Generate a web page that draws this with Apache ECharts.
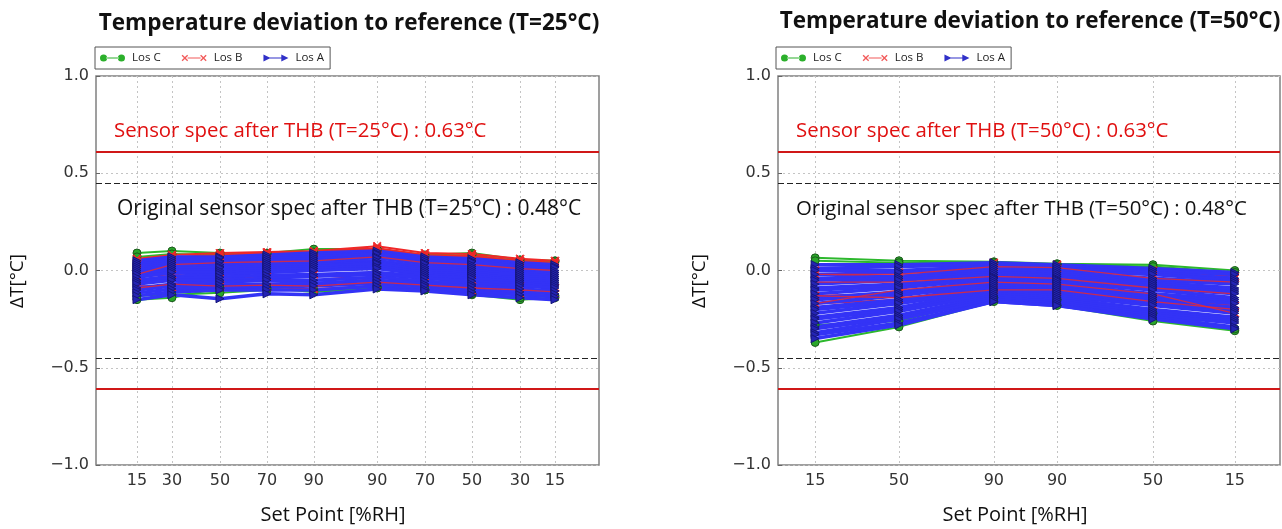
<!DOCTYPE html>
<html>
<head>
<meta charset="utf-8">
<script src="https://cdn.jsdelivr.net/npm/echarts@6/dist/echarts.min.js"></script>
<style>html,body{margin:0;padding:0;background:#fff}#chart{width:1282px;height:529px}</style>
</head>
<body>
<div id="chart"></div>
<script>
// x positions of the set points (arbitrary time scale 0..100) and their labels
const stepX25 = [8.15, 15.1, 24.65, 34.0, 43.3, 55.9, 65.4, 74.75, 84.3, 91.25];
const stepLabels25 = ['15', '30', '50', '70', '90', '90', '70', '50', '30', '15'];
const stepX50 = [7.4, 24.1, 43.0, 55.6, 74.7, 91.0];
const stepLabels50 = ['15', '50', '90', '90', '50', '15'];

// spec lines
const specRed = [0.61, -0.61];
const specBlack = [0.45, -0.45];

// T=25°C
const losA25 = [
  [0.05, 0.07, 0.07, 0.08, 0.09, 0.10, 0.07, 0.06, 0.04, 0.03],
  [0.04, 0.06, 0.065, 0.07, 0.08, 0.09, 0.06, 0.05, 0.03, 0.02],
  [0.03, 0.05, 0.05, 0.06, 0.07, 0.085, 0.05, 0.045, 0.02, 0.015],
  [0.02, 0.04, 0.045, 0.05, 0.06, 0.07, 0.04, 0.03, 0.01, 0.00],
  [0.01, 0.03, 0.03, 0.04, 0.05, 0.065, 0.035, 0.02, 0.00, -0.01],
  [0.00, 0.02, 0.02, 0.03, 0.04, 0.05, 0.02, 0.01, -0.01, -0.02],
  [-0.01, 0.01, 0.015, 0.02, 0.03, 0.04, 0.01, 0.00, -0.02, -0.03],
  [-0.02, 0.00, 0.00, 0.01, 0.02, 0.035, 0.00, -0.01, -0.03, -0.04],
  [-0.035, -0.01, -0.01, 0.00, 0.01, 0.02, -0.01, -0.02, -0.04, -0.05],
  [-0.05, -0.03, -0.02, -0.01, 0.00, 0.01, -0.02, -0.03, -0.05, -0.06],
  [-0.06, -0.04, -0.035, -0.025, -0.02, -0.01, -0.03, -0.04, -0.06, -0.07],
  [-0.07, -0.05, -0.05, -0.04, -0.03, -0.02, -0.04, -0.055, -0.07, -0.08],
  [-0.09, -0.07, -0.06, -0.05, -0.05, -0.035, -0.055, -0.07, -0.08, -0.09],
  [-0.10, -0.08, -0.075, -0.07, -0.065, -0.05, -0.07, -0.08, -0.095, -0.105],
  [-0.115, -0.095, -0.09, -0.085, -0.08, -0.065, -0.08, -0.095, -0.11, -0.12],
  [-0.13, -0.11, -0.10, -0.10, -0.10, -0.08, -0.095, -0.11, -0.125, -0.135],
  [-0.15, -0.125, -0.145, -0.12, -0.125, -0.095, -0.105, -0.125, -0.14, -0.15]
];
const losB25 = [
  [0.06, 0.08, 0.09, 0.095, 0.10, 0.125, 0.09, 0.085, 0.06, 0.05],
  [0.045, 0.07, 0.08, 0.09, 0.095, 0.115, 0.08, 0.075, 0.05, 0.04],
  [0.035, 0.06, 0.07, 0.08, 0.09, 0.11, 0.075, 0.07, 0.045, 0.035],
  [-0.08, -0.085, -0.08, -0.085, -0.095, -0.08, -0.09, -0.105, -0.12, -0.12],
  [-0.03, -0.02, -0.04, -0.03, -0.02, -0.05, -0.06, -0.05, -0.08, -0.09]
];
// red sensors that show through inside the blue band
const losB25Inner = [
  [-0.02, 0.03, 0.04, 0.045, 0.05, 0.07, 0.04, 0.03, 0.01, 0.00],
  [-0.09, -0.07, -0.08, -0.075, -0.08, -0.06, -0.075, -0.09, -0.10, -0.11]
];
const losC25 = [
  [0.09, 0.10, 0.09, 0.09, 0.11, 0.11, 0.08, 0.09, 0.055, 0.05],
  [0.07, 0.085, 0.08, 0.085, 0.095, 0.10, 0.07, 0.08, 0.045, 0.045],
  [-0.13, -0.125, -0.115, -0.10, -0.10, -0.085, -0.10, -0.125, -0.15, -0.14],
  [-0.15, -0.14, -0.09, -0.09, -0.11, -0.09, -0.10, -0.12, -0.14, -0.13]
];

// T=50°C
const losA50 = [
  [0.03, 0.03, 0.04, 0.03, 0.01, -0.01],
  [0.01, 0.02, 0.03, 0.02, 0.00, -0.02],
  [0.00, 0.00, 0.02, 0.01, -0.01, -0.04],
  [-0.02, -0.01, 0.01, 0.00, -0.02, -0.05],
  [-0.04, -0.03, 0.00, -0.01, -0.04, -0.06],
  [-0.05, -0.04, -0.01, -0.02, -0.05, -0.07],
  [-0.07, -0.05, -0.02, -0.03, -0.06, -0.09],
  [-0.09, -0.07, -0.03, -0.04, -0.07, -0.10],
  [-0.10, -0.08, -0.035, -0.045, -0.08, -0.11],
  [-0.12, -0.09, -0.04, -0.05, -0.09, -0.12],
  [-0.14, -0.11, -0.05, -0.06, -0.10, -0.14],
  [-0.15, -0.12, -0.06, -0.07, -0.12, -0.15],
  [-0.17, -0.13, -0.07, -0.08, -0.13, -0.16],
  [-0.19, -0.15, -0.08, -0.09, -0.14, -0.17],
  [-0.20, -0.16, -0.09, -0.10, -0.15, -0.19],
  [-0.22, -0.17, -0.10, -0.11, -0.16, -0.20],
  [-0.24, -0.19, -0.10, -0.12, -0.17, -0.21],
  [-0.25, -0.20, -0.11, -0.13, -0.18, -0.22],
  [-0.27, -0.21, -0.12, -0.14, -0.20, -0.24],
  [-0.29, -0.23, -0.13, -0.15, -0.21, -0.25],
  [-0.30, -0.24, -0.14, -0.16, -0.22, -0.26],
  [-0.32, -0.25, -0.15, -0.17, -0.23, -0.27],
  [-0.33, -0.27, -0.16, -0.18, -0.24, -0.29],
  [-0.35, -0.28, -0.16, -0.18, -0.25, -0.30]
];
const losB50 = [
  [0.00, -0.01, 0.04, 0.03, 0.00, -0.03],
  [-0.02, -0.03, 0.02, 0.01, -0.02, -0.04],
  [-0.13, -0.12, -0.10, -0.10, -0.15, -0.18],
  [-0.17, -0.15, -0.09, -0.11, -0.18, -0.22]
];
const losB50Inner = [
  [-0.02, -0.02, 0.02, 0.015, -0.04, -0.06],
  [-0.13, -0.14, -0.10, -0.10, -0.16, -0.20],
  [-0.17, -0.10, -0.06, -0.07, -0.12, -0.22],
  [-0.06, -0.06, -0.03, -0.04, -0.09, -0.12]
];
const losC50 = [
  [0.065, 0.05, 0.045, 0.035, 0.03, 0.00],
  [0.05, 0.04, 0.04, 0.03, 0.02, -0.01],
  [-0.37, -0.29, -0.16, -0.18, -0.26, -0.31],
  [-0.28, -0.26, -0.14, -0.15, -0.22, -0.30]
];

const chart = echarts.init(document.getElementById('chart'));

const TICK_FONT = 'DejaVu Sans';
const TEXT_FONT = 'Open Sans';

// legend icons: marker - line - marker, like matplotlib with two points
const ICON_LINE = 'M8,4.5H22V5.5H8Z';
const styles = {
  'Los C': {
    symbol: 'circle', width: 2,
    line: '#2db82d', fill: '#2aa62a', border: '#1c5a1c', legend: '#2bb02b',
    icon: 'path://M1,5A4,4 0 1 0 9,5A4,4 0 1 0 1,5Z M21,5A4,4 0 1 0 29,5A4,4 0 1 0 21,5Z ' + ICON_LINE
  },
  'Los B': {
    symbol: 'path://M0,1L1,0L5,4L9,0L10,1L6,5L10,9L9,10L5,6L1,10L0,9L4,5Z', width: 2,
    line: '#f02828', fill: '#f02828', border: '#f02828', legend: '#f25a5a',
    icon: 'path://M1.5,2.5L2.5,1.5L5,4L7.5,1.5L8.5,2.5L6,5L8.5,7.5L7.5,8.5L5,6L2.5,8.5L1.5,7.5L4,5Z ' +
      'M21.5,2.5L22.5,1.5L25,4L27.5,1.5L28.5,2.5L26,5L28.5,7.5L27.5,8.5L25,6L22.5,8.5L21.5,7.5L24,5Z ' + ICON_LINE
  },
  'Los A': {
    symbol: 'path://M0,0L10,5L0,10Z', width: 3.5,
    line: '#3333f6', fill: '#2424b4', border: '#16167a', legend: '#3030c8',
    icon: 'path://M1,1L9,5L1,9Z M21,1L29,5L21,9Z ' + ICON_LINE
  }
};

function makeSeries(name, rows, xs, idx, overlay) {
  const s = styles[name];
  return rows.map(row => ({
    type: 'line',
    name: name,
    xAxisIndex: idx,
    yAxisIndex: idx,
    data: row.map((v, i) => [xs[i], v]),
    symbol: s.symbol,
    symbolSize: 8,
    showSymbol: !overlay,
    lineStyle: overlay ? {color: s.line, width: 1.3, opacity: 0.8} : {color: s.line, width: s.width},
    itemStyle: {color: s.fill, borderColor: s.border, borderWidth: 1},
    emphasis: {disabled: true},
    silent: true
  }));
}

function specSeries(idx) {
  return {
    type: 'line',
    name: 'spec',
    xAxisIndex: idx,
    yAxisIndex: idx,
    data: [],
    markLine: {
      silent: true,
      symbol: 'none',
      label: {show: false},
      data: [
        ...specRed.map(v => ({yAxis: v, lineStyle: {color: '#d01818', width: 2, type: 'solid'}})),
        ...specBlack.map(v => ({yAxis: v, lineStyle: {color: '#222', width: 1.2, type: [6, 3]}}))
      ]
    }
  };
}

function xAxisFor(idx, xs, labels) {
  return {
    type: 'value',
    gridIndex: idx,
    min: 0,
    max: 100,
    axisLine: {show: false},
    axisTick: {show: true, inside: true, length: 4, customValues: xs, lineStyle: {color: '#666'}},
    axisLabel: {
      customValues: xs,
      formatter: v => labels[xs.indexOf(v)],
      fontFamily: TICK_FONT, fontSize: 16, color: '#333', margin: 8
    },
    splitLine: {show: true, lineStyle: {color: '#c4c4c4', type: [2, 3], width: 1}}
  };
}

function yAxisFor(idx) {
  return {
    type: 'value',
    gridIndex: idx,
    min: -1,
    max: 1,
    interval: 0.5,
    axisLine: {show: false},
    axisTick: {show: true, inside: true, length: 4, lineStyle: {color: '#666'}},
    axisLabel: {
      formatter: v => (v < 0 ? '\u2212' : '') + Math.abs(v).toFixed(1),
      fontFamily: TICK_FONT, fontSize: 16, color: '#333', margin: 7
    },
    splitLine: {show: true, lineStyle: {color: '#c4c4c4', type: [2, 3], width: 1}}
  };
}

function legendFor(left) {
  return {
    left: left,
    top: 47,
    data: ['Los C', 'Los B', 'Los A'].map(n => ({
      name: n,
      icon: styles[n].icon,
      itemStyle: {color: styles[n].legend, borderWidth: 0}
    })),
    orient: 'horizontal',
    itemWidth: 25,
    itemHeight: 8,
    itemGap: 21,
    padding: [5, 6, 5, 5],
    borderColor: '#555',
    borderWidth: 1,
    backgroundColor: '#fff',
    selectedMode: false,
    textStyle: {fontFamily: TEXT_FONT, fontSize: 11.5, color: '#222', padding: [0, 0, 0, 2]}
  };
}

function textEl(x, y, text, opts) {
  return {
    type: 'text',
    x: x,
    y: y,
    rotation: opts.rotation || 0,
    z: 100,
    style: Object.assign({
      text: text,
      fontFamily: TEXT_FONT,
      fontSize: 20,
      fill: '#111',
      align: 'left',
      verticalAlign: 'middle'
    }, opts.style || {})
  };
}

const series = [].concat(
  specSeries(0),
  makeSeries('Los C', losC25, stepX25, 0),
  makeSeries('Los B', losB25, stepX25, 0),
  makeSeries('Los A', losA25, stepX25, 0),
  makeSeries('Los B', losB25Inner, stepX25, 0, true),
  specSeries(1),
  makeSeries('Los C', losC50, stepX50, 1),
  makeSeries('Los B', losB50, stepX50, 1),
  makeSeries('Los A', losA50, stepX50, 1),
  makeSeries('Los B', losB50Inner, stepX50, 1, true)
);

chart.setOption({
  animation: false,
  backgroundColor: '#fff',
  grid: [
    {left: 96, top: 76, width: 503, height: 389, show: true, borderColor: '#808080', borderWidth: 1.5, backgroundColor: 'transparent'},
    {left: 778, top: 76, width: 502, height: 389, show: true, borderColor: '#808080', borderWidth: 1.5, backgroundColor: 'transparent'}
  ],
  legend: [legendFor(95), legendFor(776)],
  xAxis: [xAxisFor(0, stepX25, stepLabels25), xAxisFor(1, stepX50, stepLabels50)],
  yAxis: [yAxisFor(0), yAxisFor(1)],
  graphic: [
    textEl(349, 24, 'Temperature deviation to reference (T=25°C)', {style: {fontWeight: 'bold', fontSize: 22.5, align: 'center'}}),
    textEl(1030, 22, 'Temperature deviation to reference (T=50°C)', {style: {fontWeight: 'bold', fontSize: 22.5, align: 'center'}}),
    textEl(114, 131, 'Sensor spec after THB (T=25°C) : 0.63°C', {style: {fill: '#e01010', fontSize: 20.4}}),
    textEl(796, 131, 'Sensor spec after THB (T=50°C) : 0.63°C', {style: {fill: '#e01010', fontSize: 20.4}}),
    textEl(117, 209, 'Original sensor spec after THB (T=25°C) : 0.48°C', {style: {fontSize: 21}}),
    textEl(796, 209, 'Original sensor spec after THB (T=50°C) : 0.48°C', {style: {fontSize: 20.4}}),
    textEl(18, 281, 'ΔT[°C]', {rotation: Math.PI / 2, style: {align: 'center', fontSize: 19}}),
    textEl(700, 281, 'ΔT[°C]', {rotation: Math.PI / 2, style: {align: 'center', fontSize: 19}}),
    textEl(333, 515, 'Set Point [%RH]', {style: {align: 'center'}}),
    textEl(1015, 515, 'Set Point [%RH]', {style: {align: 'center'}})
  ],
  series: series
});
</script>
</body>
</html>
